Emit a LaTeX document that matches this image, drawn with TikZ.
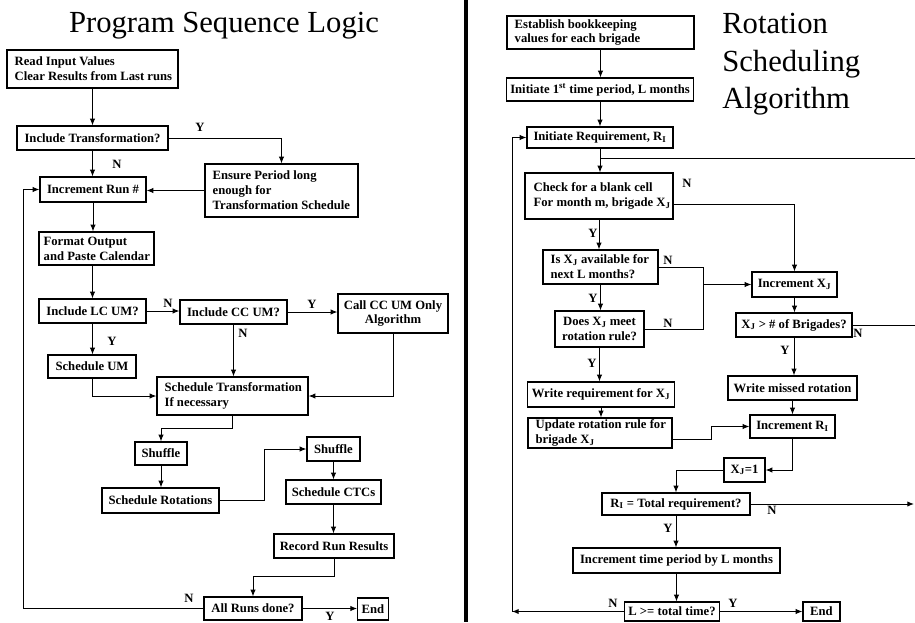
\documentclass[tikz,border=0pt]{standalone}
\usepackage{fontspec}
\setmainfont{Liberation Serif}
\usetikzlibrary{arrows.meta}
\tikzset{
  bxs/.style={draw, line width=0.9pt, inner xsep=3pt, inner ysep=0pt, align=center,
    font=\fontsize{9.5}{11.2}\selectfont\bfseries},
  bxtxt/.style={anchor=west, align=left, inner ysep=0pt,
    font=\fontsize{9.5}{11.2}\selectfont\bfseries},
  conn/.style={line width=0.75pt},
  arr/.style={conn, -{Latex[length=5pt,width=4pt]}},
  lbl/.style={font=\fontsize{9.5}{11}\selectfont\bfseries, inner sep=0pt},
  ttl/.style={font=\fontsize{23}{27}\selectfont, inner sep=0pt},
}
% centred box: name, x1, y1, x2, y2, text
\newcommand\bxc[6]{%
  \pgfmathsetmacro\bxw{(#4-#2)*0.75}%
  \pgfmathsetmacro\bxh{(#5-#3)*0.75}%
  \node[bxs, minimum width=\bxw pt, minimum height=\bxh pt] (#1) at ({(#2+#4)/2},{(#3+#5)/2}) {#6};}
% left-aligned box: pad(px), name, x1, y1, x2, y2, text
\newcommand\bxl[7]{%
  \pgfmathsetmacro\bxw{(#5-#3)*0.75}%
  \pgfmathsetmacro\bxh{(#6-#4)*0.75}%
  \pgfmathsetmacro\bxp{#1*0.75}%
  \node[bxs, minimum width=\bxw pt, minimum height=\bxh pt,
    label={[bxtxt, inner xsep=\bxp pt]west:{#7}}] (#2) at ({(#3+#5)/2},{(#4+#6)/2}) {};}
\begin{document}
\begin{tikzpicture}[x=0.75pt,y=-0.75pt]
\useasboundingbox (0,0) rectangle (915,622);
% divider
\draw[line width=2.3pt] (466,0) -- (466,622);
% titles
\node[ttl, anchor=base] (t1) at (224,32) {Program Sequence Logic};
\node[ttl, anchor=base west] (t2a) at (722,33) {Rotation};
\node[ttl, anchor=base west] (t2b) at (722,71) {Scheduling};
\node[ttl, anchor=base west] (t2c) at (722,108) {Algorithm};

% ---------- left: program sequence logic ----------
\bxl{8}{read}{7}{50}{178}{88}{Read Input Values\\Clear Results from Last runs}
\bxc{incl}{17}{126}{168}{150}{Include Transformation?}
\bxl{8}{ensure}{205}{164}{358}{217}{Ensure Period long\\enough for\\Transformation Schedule}
\bxc{incrun}{40}{177}{146}{202}{Increment Run \#}
\bxl{5}{format}{39}{232}{154}{265}{Format Output\\and Paste Calendar}
\bxc{lc}{39}{299}{146}{323}{Include LC UM?}
\bxc{cc}{180}{300}{287}{324}{Include CC UM?}
\bxc{callcc}{338}{294}{448}{333}{Call CC UM Only\\Algorithm}
\bxc{schum}{48}{355}{136}{378}{Schedule UM}
\bxl{8}{scht}{157}{377}{308}{415}{Schedule Transformation\\If necessary}
\bxc{shuf1}{135}{442}{187}{465}{Shuffle}
\bxc{rot}{102}{488}{219}{513}{Schedule Rotations}
\bxc{shuf2}{307}{437}{360}{461}{Shuffle}
\bxc{ctc}{286}{480}{381}{504}{Schedule CTCs}
\bxc{rec}{274}{534}{394}{558}{Record Run Results}
\bxc{allr}{204}{597}{302}{620}{All Runs done?}
\bxc{end1}{359}{598}{387}{620}{End}

\draw[arr] (read.south) -- (read.south |- incl.north);
\draw[arr] (incl.east) -| (ensure.north);
\draw[arr] (incl.south) -- (incl.south |- incrun.north);
\draw[arr] (ensure.west) -- (ensure.west -| incrun.east);
\draw[arr] (incrun.south) -- (incrun.south |- format.north);
\draw[arr] (lc.north |- format.south) -- (lc.north);
\draw[arr] (lc.east) -- (lc.east -| cc.west);
\draw[arr] (cc.east) -- (cc.east -| callcc.west);
\draw[arr] (cc.south) -- (cc.south |- scht.north);
\draw[arr] (lc.south) -- (lc.south |- schum.north);
\draw[arr] (schum.south) |- (scht.west);
\draw[arr] (callcc.south) |- (scht.east);
\draw[arr] (scht.south) -- ++(0,13) -| (shuf1.north);
\draw[arr] (shuf1.south) -- (shuf1.south |- rot.north);
\draw[arr] (rot.east) -- ++(45,0) |- (shuf2.west);
\draw[arr] (shuf2.south) -- (shuf2.south |- ctc.north);
\draw[arr] (ctc.south) -- (ctc.south |- rec.north);
\draw[arr] (rec.south) -- ++(0,18) -| (allr.north);
\coordinate (loopl) at (23,0);
\draw[arr] (allr.west) -- (allr.west -| loopl) |- (incrun.west);
\draw[arr] (allr.east) -- (allr.east -| end1.west);

\node[lbl] (l1) at (200,127) {Y};
\node[lbl] (l2) at (117,164) {N};
\node[lbl] (l3) at (168,303) {N};
\node[lbl] (l4) at (312,304) {Y};
\node[lbl] (l5) at (243,333) {N};
\node[lbl] (l6) at (112,341) {Y};
\node[lbl] (l7) at (189,598) {N};
\node[lbl] (l8) at (330,616) {Y};

% ---------- right: rotation scheduling algorithm ----------
\bxl{8}{est}{507}{16}{694}{49}{Establish bookkeeping\\values for each brigade}
\bxc{init1}{507}{78}{693}{101}{Initiate 1\textsuperscript{st} time period, L months}
\bxc{initr}{527}{127}{673}{148}{Initiate Requirement, R\textsubscript{I}}
\bxl{9}{check}{525}{173}{673}{219}{Check for a blank cell\\For month m, brigade X\textsubscript{J}}
\bxl{8}{isx}{543}{250}{658}{284}{Is X\textsubscript{J} available for\\next L months?}
\bxc{does}{555}{311}{644}{347}{Does X\textsubscript{J} meet\\rotation rule?}
\bxc{wreq}{528}{382}{674}{407}{Write requirement for X\textsubscript{J}}
\bxl{8}{upd}{528}{418}{672}{448}{Update rotation rule for\\brigade X\textsubscript{J}}
\bxc{incx}{752}{272}{837}{297}{Increment X\textsubscript{J}}
\bxc{xgt}{736}{313}{852}{337}{X\textsubscript{J} > \# of Brigades?}
\bxc{wmiss}{728}{376}{857}{400}{Write missed rotation}
\bxc{incr}{750}{415}{835}{438}{Increment R\textsubscript{I}}
\bxc{xj1}{724}{458}{765}{482}{X\textsubscript{J}=1}
\bxc{rtot}{602}{493}{750}{515}{R\textsubscript{I} = Total requirement?}
\bxc{inct}{573}{548}{780}{573}{Increment time period by L months}
\bxc{lge}{626}{602}{718}{621}{L >= total time?}
\bxc{end2}{803}{602}{840}{621}{End}

\draw[arr] (est.south) -- (est.south |- init1.north);
\draw[arr] (init1.south) -- (init1.south |- initr.north);
\draw[arr] (initr.south) -- (initr.south |- check.north);
\coordinate (re1) at (915,158);
\draw[conn] (re1) -- (re1 -| initr.south);
\draw[arr] ([yshift=-6pt]check.east) -| (incx.north);
\draw[arr] (check.south) -- (check.south |- isx.north);
\coordinate (vx) at (703,0);
\draw[conn] (isx.east) -| (vx |- does.east) -- (does.east);
\draw[arr] (vx |- incx.west) -- (incx.west);
\draw[arr] (isx.south) -- (isx.south |- does.north);
\draw[arr] (does.south) -- (does.south |- wreq.north);
\draw[arr] (wreq.south) -- (wreq.south |- upd.north);
\draw[arr] ([yshift=-4.5pt]upd.east) -- ++(39,0) |- (incr.west);
\draw[arr] (incx.south) -- (incx.south |- xgt.north);
\coordinate (re2) at (915,0);
\draw[conn] (xgt.east) -- (xgt.east -| re2);
\draw[arr] (xgt.south) -- (xgt.south |- wmiss.north);
\draw[arr] (wmiss.south) -- (wmiss.south |- incr.north);
\draw[arr] (incr.south) |- (xj1.east);
\draw[arr] (xj1.west) -| (rtot.north);
\coordinate (re3) at (914,0);
\draw[arr] (rtot.east) -- (rtot.east -| re3);
\draw[arr] (rtot.south) -- (rtot.south |- inct.north);
\draw[arr] (inct.south) -- (inct.south |- lge.north);
\coordinate (loopr) at (512,0);
\draw[arr] (lge.west) -- (lge.west -| loopr);
\draw[arr] (lge.west -| loopr) |- (initr.west);
\draw[arr] (lge.east) -- (lge.east -| end2.west);

\node[lbl] (r1) at (687,183) {N};
\node[lbl] (r2) at (593,233) {Y};
\node[lbl] (r3) at (668,260) {N};
\node[lbl] (r4) at (593,298) {Y};
\node[lbl] (r5) at (668,323) {N};
\node[lbl] (r6) at (592,363) {Y};
\node[lbl] (r7) at (858,333) {N};
\node[lbl] (r8) at (785,350) {Y};
\node[lbl] (r9) at (772,510) {N};
\node[lbl] (r10) at (668,528) {Y};
\node[lbl] (r11) at (613,603) {N};
\node[lbl] (r12) at (733,603) {Y};
\end{tikzpicture}
\end{document}
